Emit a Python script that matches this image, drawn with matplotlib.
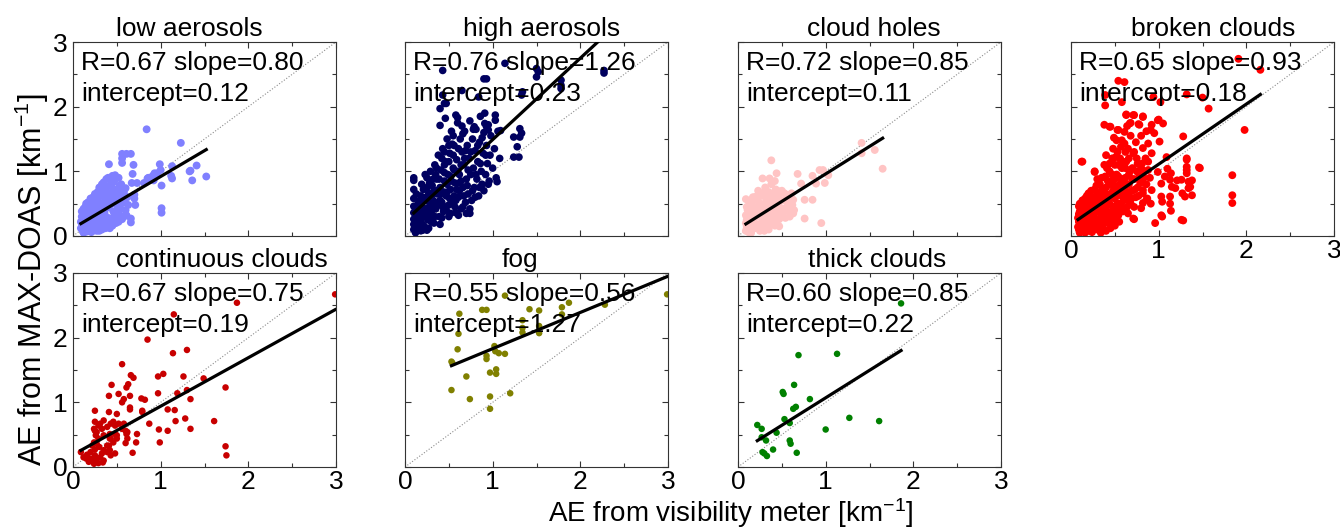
import numpy as np
import matplotlib
matplotlib.use("Agg")
import matplotlib.pyplot as plt
from matplotlib.ticker import MultipleLocator

plt.rcParams["font.family"] = "Liberation Sans"
plt.rcParams["mathtext.fontset"] = "custom"
plt.rcParams["mathtext.rm"] = "Liberation Sans"
plt.rcParams["mathtext.default"] = "regular"

titles = ["low aerosols", "high aerosols", "cloud holes", "broken clouds",
          "continuous clouds", "fog", "thick clouds"]
R = [0.67, 0.76, 0.72, 0.65, 0.67, 0.55, 0.60]
slope = [0.80, 1.26, 0.85, 0.93, 0.75, 0.56, 0.85]
intercept = [0.12, 0.23, 0.11, 0.18, 0.19, 1.27, 0.22]

# AE pairs: (visibility meter, MAX-DOAS) in km-1
low_aerosols = np.array([
    [0.09, 0.12], [0.09, 0.22], [0.10, 0.30], [0.10, 0.38], [0.11, 0.17], [0.11, 0.08], [0.12, 0.26],
    [0.12, 0.42], [0.13, 0.12], [0.13, 0.33], [0.14, 0.20], [0.15, 0.50], [0.16, 0.07], [0.17, 0.28],
    [0.18, 0.40], [0.19, 0.15], [0.20, 0.58], [0.21, 0.35], [0.22, 0.22], [0.23, 0.47], [0.24, 0.09],
    [0.25, 0.65], [0.26, 0.30], [0.27, 0.55], [0.28, 0.16], [0.29, 0.42], [0.30, 0.75], [0.31, 0.24],
    [0.32, 0.62], [0.33, 0.10], [0.34, 0.50], [0.35, 0.83], [0.36, 0.35], [0.37, 0.70], [0.38, 0.18],
    [0.39, 0.58], [0.40, 0.90], [0.41, 0.44], [0.42, 0.78], [0.43, 0.27], [0.44, 0.64], [0.45, 0.93],
    [0.46, 0.38], [0.47, 0.85], [0.48, 0.52], [0.49, 0.20], [0.50, 0.72], [0.51, 0.45], [0.52, 0.90],
    [0.53, 0.33], [0.54, 0.62], [0.55, 0.80], [0.56, 0.26], [0.57, 0.55], [0.58, 0.70], [0.60, 0.40],
    [0.62, 0.60], [0.63, 0.48], [0.11, 0.30], [0.12, 0.05], [0.14, 0.36], [0.15, 0.10], [0.16, 0.44],
    [0.18, 0.25], [0.20, 0.10], [0.22, 0.50], [0.24, 0.38], [0.26, 0.18], [0.28, 0.68], [0.30, 0.52],
    [0.32, 0.34], [0.34, 0.14], [0.36, 0.60], [0.38, 0.44], [0.40, 0.28], [0.42, 0.12], [0.44, 0.50],
    [0.46, 0.72], [0.48, 0.30], [0.50, 0.58], [0.52, 0.22], [0.54, 0.42], [0.56, 0.68], [0.58, 0.30],
    [0.30, 0.08], [0.20, 0.33], [0.15, 0.24], [0.25, 0.45], [0.35, 0.25], [0.45, 0.16], [0.40, 0.66],
    [0.33, 0.80], [0.10, 0.20], [0.12, 0.34], [0.13, 0.06], [0.14, 0.45], [0.16, 0.18], [0.17, 0.52],
    [0.19, 0.30], [0.21, 0.06], [0.21, 0.46], [0.23, 0.14], [0.23, 0.60], [0.25, 0.25], [0.27, 0.36],
    [0.27, 0.08], [0.29, 0.62], [0.31, 0.44], [0.31, 0.14], [0.33, 0.68], [0.35, 0.40], [0.37, 0.52],
    [0.37, 0.12], [0.39, 0.76], [0.41, 0.22], [0.43, 0.56], [0.45, 0.82], [0.47, 0.30], [0.49, 0.66],
    [0.51, 0.35], [0.53, 0.78], [0.55, 0.50], [0.59, 0.52], [0.61, 0.32], [0.38, 0.88], [0.43, 0.90],
    [0.48, 0.94], [0.36, 0.78],
    [0.84, 1.65], [1.23, 1.44], [0.56, 1.27], [0.61, 1.27], [0.66, 1.27], [0.56, 1.20], [0.56, 1.13],
    [0.41, 1.11], [0.69, 1.10], [0.99, 1.11], [1.00, 1.02], [1.13, 1.08], [1.41, 1.09], [1.34, 1.01],
    [1.36, 0.86], [1.52, 0.92], [1.13, 0.89], [1.01, 0.78], [1.01, 0.43], [1.01, 0.36], [0.85, 0.89],
    [0.81, 0.82], [0.67, 0.82], [0.73, 0.82], [0.70, 0.58], [0.71, 0.48], [0.66, 0.27], [0.66, 0.21],
    [0.58, 0.66], [0.60, 0.74], [0.96, 0.97], [0.92, 0.86], [0.68, 0.96], [0.70, 0.64], [1.12, 0.93],
    [0.93, 0.97], [0.91, 0.93], [1.33, 1.00], [0.86, 0.90],
])

high_aerosols = np.array([
    [0.10, 0.90], [0.10, 0.72], [0.10, 0.58], [0.10, 0.46], [0.10, 0.36], [0.10, 0.26], [0.10, 0.18],
    [0.10, 0.10], [0.12, 0.05], [0.14, 0.30], [0.15, 0.50], [0.16, 0.38], [0.17, 0.20], [0.18, 0.62],
    [0.19, 0.28], [0.20, 0.45], [0.21, 0.72], [0.22, 0.15], [0.23, 0.55], [0.24, 0.35], [0.25, 0.90],
    [0.26, 0.25], [0.27, 0.66], [0.28, 0.46], [0.29, 1.00], [0.30, 0.32], [0.31, 0.78], [0.32, 0.55],
    [0.33, 0.20], [0.34, 1.10], [0.35, 0.42], [0.36, 0.88], [0.37, 0.65], [0.38, 1.25], [0.39, 0.30],
    [0.40, 0.75], [0.41, 1.02], [0.42, 0.52], [0.43, 1.35], [0.44, 0.38], [0.45, 0.85], [0.46, 1.15],
    [0.47, 0.62], [0.48, 1.50], [0.49, 0.95], [0.50, 0.30], [0.51, 1.28], [0.52, 0.72], [0.53, 1.62],
    [0.54, 0.50], [0.55, 1.05], [0.56, 1.40], [0.57, 0.82], [0.58, 0.36], [0.59, 1.18], [0.60, 1.75],
    [0.61, 0.60], [0.62, 0.95], [0.63, 1.50], [0.64, 0.42], [0.65, 1.30], [0.66, 0.75], [0.67, 1.10],
    [0.68, 1.62], [0.69, 0.52], [0.70, 0.88], [0.71, 1.40], [0.72, 0.65], [0.73, 1.20], [0.74, 1.78],
    [0.75, 0.95], [0.76, 0.55], [0.77, 1.50], [0.78, 1.05], [0.79, 0.75], [0.80, 1.32], [0.81, 1.65],
    [0.82, 0.88], [0.83, 1.15], [0.84, 0.62], [0.85, 1.45], [0.86, 1.85], [0.87, 1.00], [0.88, 0.80],
    [0.89, 1.28], [0.90, 1.60], [0.91, 1.90], [0.92, 0.95], [0.93, 1.40], [0.94, 1.12], [0.95, 1.72],
    [0.96, 0.85], [0.97, 1.25], [0.98, 1.55], [1.00, 1.05], [1.02, 1.35], [1.04, 0.90], [1.06, 1.62],
    [1.08, 1.20], [0.22, 0.40], [0.26, 0.55], [0.30, 0.62], [0.33, 0.45], [0.36, 0.70], [0.40, 0.55],
    [0.44, 0.68], [0.48, 0.80], [0.52, 0.92], [0.56, 0.62], [0.60, 1.00], [0.64, 0.85], [0.68, 1.20],
    [0.35, 0.95], [0.45, 1.10], [0.55, 1.25], [0.28, 0.30], [0.38, 0.48], [0.50, 0.48], [0.62, 0.70],
    [0.20, 0.18], [0.30, 0.22], [0.42, 0.28], [0.46, 0.45], [0.58, 0.55], [0.25, 0.75], [0.32, 0.88],
    [0.16, 0.12], [0.18, 0.08], [0.27, 0.12], [0.40, 0.18], [0.52, 0.35], [0.66, 0.45], [0.74, 0.42],
    [0.70, 0.35], [0.80, 0.60], [0.85, 0.75], [0.90, 0.70], [0.95, 0.80],
    [0.12, 0.40], [0.13, 0.65], [0.15, 0.22], [0.17, 0.55], [0.19, 0.80], [0.21, 0.32], [0.23, 0.95],
    [0.24, 0.60], [0.26, 0.42], [0.28, 0.82], [0.29, 0.56], [0.31, 0.40], [0.33, 0.70], [0.34, 0.30],
    [0.36, 1.05], [0.37, 0.52], [0.39, 0.88], [0.41, 0.65], [0.42, 1.20], [0.43, 0.45], [0.45, 0.98],
    [0.47, 0.40], [0.48, 0.68], [0.50, 1.15], [0.51, 0.58], [0.53, 0.85], [0.54, 1.42], [0.56, 1.02],
    [0.57, 0.45], [0.59, 0.72], [0.61, 1.35], [0.62, 0.82], [0.64, 1.10], [0.66, 1.58], [0.67, 0.62],
    [0.69, 1.32], [0.71, 0.78], [0.72, 1.02], [0.75, 1.30], [0.77, 0.70], [0.78, 1.65], [0.81, 0.95],
    [0.83, 1.40], [0.86, 1.12], [0.88, 1.52], [0.92, 1.25], [0.55, 1.55], [0.65, 1.70], [0.50, 1.40],
    [0.45, 1.30],
    [1.14, 2.67], [0.43, 2.56], [1.50, 2.59], [1.52, 2.54], [1.50, 2.46], [2.27, 2.56], [2.27, 2.52],
    [0.90, 2.43], [0.93, 2.43], [0.65, 2.25], [0.84, 2.15], [1.33, 2.18], [1.78, 2.41], [1.78, 2.33],
    [1.78, 2.28], [0.43, 2.18], [0.45, 2.05], [0.40, 1.97], [0.46, 1.82], [0.40, 1.71], [0.60, 1.83],
    [1.03, 1.87], [1.03, 1.79], [0.93, 1.69], [0.95, 1.64], [1.31, 1.66], [1.33, 1.59], [1.31, 1.53],
    [1.24, 1.53], [1.28, 1.38], [1.30, 1.22], [1.24, 1.22], [1.05, 0.84], [0.74, 0.35], [0.61, 0.32],
    [0.20, 0.09], [0.25, 0.09], [0.10, 0.86], [0.58, 1.87], [0.79, 1.69], [0.91, 1.74], [1.09, 1.63],
    [0.47, 2.05], [1.34, 2.23],
])

cloud_holes = np.array([
    [0.09, 0.08], [0.09, 0.20], [0.09, 0.32], [0.10, 0.12], [0.09, 0.57], [0.10, 0.25], [0.11, 0.40],
    [0.12, 0.06], [0.13, 0.18], [0.14, 0.30], [0.15, 0.50], [0.16, 0.10], [0.17, 0.38], [0.18, 0.22],
    [0.19, 0.60], [0.20, 0.44], [0.21, 0.14], [0.22, 0.30], [0.23, 0.70], [0.24, 0.52], [0.25, 0.08],
    [0.26, 0.38], [0.27, 0.20], [0.28, 0.62], [0.29, 0.46], [0.30, 0.28], [0.31, 0.75], [0.32, 0.12],
    [0.33, 0.55], [0.34, 0.36], [0.35, 0.68], [0.36, 0.22], [0.37, 0.48], [0.38, 0.80], [0.39, 0.30],
    [0.40, 0.60], [0.41, 0.42], [0.42, 0.16], [0.43, 0.72], [0.44, 0.34], [0.45, 0.52], [0.46, 0.62],
    [0.47, 0.26], [0.48, 0.44], [0.50, 0.70], [0.51, 0.36], [0.52, 0.55], [0.54, 0.28], [0.55, 0.64],
    [0.56, 0.45], [0.58, 0.38], [0.60, 0.58], [0.62, 0.48], [0.64, 0.40], [0.10, 0.15], [0.12, 0.45],
    [0.15, 0.28], [0.18, 0.40], [0.20, 0.16], [0.22, 0.55], [0.25, 0.30], [0.28, 0.18], [0.30, 0.50],
    [0.33, 0.24], [0.36, 0.58], [0.40, 0.25], [0.44, 0.45], [0.48, 0.32], [0.35, 0.10], [0.20, 0.30],
    [0.15, 0.05], [0.30, 0.08], [0.10, 0.45], [0.11, 0.10], [0.12, 0.28], [0.13, 0.52], [0.14, 0.40],
    [0.16, 0.22], [0.17, 0.60], [0.19, 0.12], [0.21, 0.36], [0.22, 0.62], [0.24, 0.18], [0.26, 0.48],
    [0.27, 0.66], [0.29, 0.10], [0.31, 0.40], [0.32, 0.60], [0.34, 0.18], [0.37, 0.34], [0.38, 0.65],
    [0.41, 0.52], [0.43, 0.24], [0.45, 0.70], [0.46, 0.38], [0.49, 0.55], [0.52, 0.42], [0.53, 0.66],
    [0.57, 0.52], [0.59, 0.30], [0.42, 0.85],
    [0.38, 1.17], [0.44, 0.97], [0.28, 0.89], [0.36, 0.89], [0.68, 0.96], [0.85, 0.93], [0.93, 1.02],
    [0.97, 1.02], [1.03, 0.94], [0.99, 0.82], [1.41, 1.44], [1.41, 1.28], [1.56, 1.33], [1.65, 1.04],
    [0.76, 0.56], [0.85, 0.56], [0.63, 0.56], [0.76, 0.27], [0.95, 0.20], [0.47, 0.15], [0.63, 0.35],
    [0.72, 0.81], [0.61, 0.66], [0.89, 0.81],
])

broken_clouds = np.array([
    [0.09, 0.10], [0.09, 0.22], [0.09, 0.34], [0.09, 0.46], [0.10, 0.16], [0.11, 0.28], [0.12, 0.40],
    [0.13, 0.55], [0.14, 0.08], [0.15, 0.20], [0.16, 0.33], [0.17, 0.47], [0.18, 0.62], [0.19, 0.12],
    [0.20, 0.26], [0.21, 0.40], [0.22, 0.55], [0.23, 0.70], [0.24, 0.06], [0.25, 0.18], [0.26, 0.32],
    [0.27, 0.46], [0.28, 0.60], [0.29, 0.78], [0.30, 0.10], [0.31, 0.24], [0.32, 0.38], [0.33, 0.52],
    [0.34, 0.68], [0.35, 0.90], [0.36, 0.15], [0.37, 0.30], [0.38, 0.44], [0.39, 0.58], [0.40, 0.75],
    [0.41, 1.05], [0.42, 0.20], [0.43, 0.36], [0.44, 0.50], [0.45, 0.65], [0.46, 0.85], [0.47, 1.20],
    [0.48, 0.25], [0.49, 0.42], [0.50, 0.58], [0.51, 0.72], [0.52, 0.95], [0.53, 1.30], [0.54, 0.32],
    [0.55, 0.50], [0.56, 0.66], [0.57, 0.82], [0.58, 1.05], [0.59, 0.38], [0.60, 0.55], [0.61, 0.72],
    [0.62, 0.90], [0.63, 1.15], [0.64, 0.45], [0.65, 0.62], [0.66, 0.80], [0.67, 1.00], [0.68, 0.50],
    [0.70, 0.70], [0.72, 0.88], [0.74, 0.60], [0.10, 0.05], [0.12, 0.12], [0.16, 0.05], [0.20, 0.08],
    [0.28, 0.14], [0.34, 0.05], [0.10, 0.38], [0.14, 0.30], [0.18, 0.40], [0.22, 0.30], [0.24, 0.45],
    [0.26, 0.60], [0.30, 0.50], [0.32, 0.65], [0.34, 0.30], [0.36, 0.55], [0.38, 0.68], [0.40, 0.40],
    [0.42, 0.62], [0.44, 0.80], [0.46, 0.35], [0.48, 0.70], [0.50, 0.88], [0.52, 0.48], [0.54, 0.78],
    [0.56, 0.40], [0.58, 0.62], [0.60, 0.85], [0.30, 0.88], [0.38, 1.10], [0.44, 1.12], [0.50, 1.10],
    [0.56, 1.20], [0.62, 1.30], [0.40, 1.25], [0.48, 1.35], [0.54, 1.10], [0.66, 1.20], [0.70, 1.05],
    [0.75, 1.20], [0.78, 0.95], [0.80, 1.05], [0.84, 1.00], [0.86, 0.80], [0.90, 0.90], [0.76, 0.75],
    [0.72, 0.45], [0.65, 0.35], [0.55, 0.22], [0.45, 0.12], [0.40, 0.08], [0.50, 0.16],
    [0.08, 0.14], [0.08, 0.28], [0.10, 0.50], [0.11, 0.22], [0.12, 0.33], [0.13, 0.45], [0.14, 0.15],
    [0.15, 0.38], [0.16, 0.58], [0.17, 0.26], [0.18, 0.10], [0.19, 0.50], [0.20, 0.66], [0.21, 0.18],
    [0.22, 0.42], [0.23, 0.60], [0.24, 0.25], [0.25, 0.52], [0.26, 0.12], [0.27, 0.72], [0.28, 0.38],
    [0.29, 0.22], [0.30, 0.65], [0.31, 0.44], [0.32, 0.16], [0.33, 0.80], [0.34, 0.58], [0.35, 0.40],
    [0.36, 0.72], [0.37, 0.22], [0.38, 0.55], [0.39, 0.92], [0.40, 0.62], [0.41, 0.30], [0.42, 0.85],
    [0.43, 0.48], [0.44, 1.00], [0.45, 0.28], [0.46, 0.60], [0.47, 0.95], [0.48, 0.45], [0.49, 0.78],
    [0.50, 0.30], [0.51, 1.22], [0.52, 0.62], [0.53, 0.40], [0.54, 0.92], [0.55, 0.70], [0.57, 0.48],
    [0.58, 0.88], [0.59, 1.15], [0.60, 0.42], [0.61, 0.62], [0.62, 1.05], [0.63, 0.78], [0.64, 0.56],
    [0.66, 0.95], [0.67, 0.68], [0.69, 0.58], [0.70, 0.88], [0.73, 0.72], [0.75, 1.00], [0.77, 0.62],
    [0.79, 0.82], [0.81, 1.12], [0.83, 0.90], [0.85, 1.20], [0.88, 1.02], [0.65, 1.35], [0.72, 1.30],
    [0.57, 1.38], [0.68, 1.55], [0.74, 1.45], [0.80, 1.55], [0.86, 1.62], [0.64, 1.70], [0.49, 1.52],
    [0.63, 1.87], [0.71, 1.87], [0.82, 1.85], [0.67, 1.74], [0.78, 1.72], [0.53, 1.64], [0.61, 1.61],
    [0.44, 1.69], [0.92, 1.72], [0.95, 1.59], [0.88, 1.43], [0.99, 1.79], [1.05, 1.74], [1.01, 1.46],
    [0.82, 1.36], [0.92, 1.28], [0.71, 1.28], [0.76, 1.12], [0.88, 1.15], [0.99, 0.99], [1.07, 0.92],
    [1.13, 0.87], [1.03, 0.81], [1.15, 0.76], [0.80, 0.84], [0.82, 0.71], [0.92, 0.71], [0.86, 0.56],
    [1.03, 0.61], [1.13, 0.61], [0.80, 0.43], [1.03, 0.32], [0.71, 0.27], [1.26, 0.87], [1.32, 1.18],
    [1.32, 1.02], [1.34, 0.84], [1.34, 0.74], [1.30, 0.61], [1.47, 1.05], [1.26, 0.25], [0.46, 0.17],
    [0.12, 1.15], [0.27, 0.99], [0.38, 1.72], [0.52, 1.48], [0.61, 1.43],
    [1.91, 2.74], [2.16, 2.57], [0.54, 2.40], [0.61, 2.38], [0.39, 2.18], [0.39, 2.02], [0.58, 2.07],
    [1.02, 2.07], [0.94, 2.15], [1.32, 2.19], [1.50, 2.14], [1.57, 1.97], [1.98, 1.64], [1.28, 1.54],
    [0.45, 1.69], [0.63, 1.88], [0.72, 1.87], [0.82, 1.84], [1.00, 1.80], [0.68, 1.75], [0.77, 1.73],
    [0.91, 1.64], [0.54, 1.64], [0.58, 1.48], [0.13, 1.15], [0.27, 1.00], [1.46, 1.06], [1.32, 1.20],
    [1.32, 1.07], [1.32, 0.97], [1.09, 1.22], [1.10, 1.04], [1.14, 0.97], [1.21, 0.86], [1.19, 0.74],
    [1.27, 0.66], [1.38, 0.86], [1.36, 0.76], [1.38, 0.63], [1.84, 0.94], [1.84, 0.63], [1.84, 0.51],
    [1.28, 0.24], [0.96, 0.20], [0.72, 0.26], [0.47, 0.17], [1.04, 0.30], [1.04, 0.53], [1.13, 0.50],
    [1.14, 0.39], [0.82, 0.66], [0.87, 0.58], [0.91, 0.50], [0.82, 0.51],
])

continuous_clouds = np.array([
    [2.99, 2.67], [1.87, 2.54], [1.15, 2.36], [0.85, 1.97], [1.14, 1.76], [1.30, 1.81], [0.56, 1.59],
    [0.97, 1.40], [1.03, 1.44], [1.26, 1.40], [1.49, 1.37], [0.66, 1.42], [0.69, 1.38], [0.63, 1.28],
    [0.61, 1.23], [0.44, 1.27], [1.30, 1.19], [1.19, 1.14], [1.74, 1.23], [0.97, 1.14], [0.41, 1.10],
    [0.52, 1.13], [0.65, 1.10], [0.58, 1.05], [0.56, 1.00], [0.78, 1.06], [0.82, 1.04], [1.34, 1.05],
    [0.25, 0.87], [0.41, 0.85], [0.50, 0.82], [0.65, 0.92], [0.65, 0.89], [0.79, 0.87], [0.79, 0.85],
    [1.08, 0.89], [1.16, 0.88], [1.28, 0.75], [1.17, 0.71], [1.61, 0.71], [0.87, 0.67], [0.98, 0.58],
    [1.08, 0.56], [1.34, 0.59], [0.99, 0.38], [1.74, 0.32], [1.75, 0.18], [0.48, 0.21], [0.68, 0.22],
    [0.72, 0.38], [0.60, 0.37], [0.62, 0.44], [0.73, 0.51], [0.25, 0.70], [0.25, 0.56], [0.26, 0.49],
    [0.31, 0.67], [0.35, 0.72], [0.42, 0.51], [0.42, 0.44], [0.41, 0.33], [0.42, 0.26], [0.48, 0.64],
    [0.48, 0.51], [0.50, 0.44], [0.58, 0.67], [0.60, 0.56], [0.61, 0.51],
    [0.09, 0.23], [0.12, 0.15], [0.16, 0.19], [0.20, 0.13], [0.24, 0.10], [0.27, 0.13], [0.31, 0.15],
    [0.35, 0.10], [0.20, 0.23], [0.25, 0.27], [0.30, 0.31], [0.35, 0.26], [0.39, 0.33], [0.24, 0.38],
    [0.29, 0.44], [0.35, 0.49], [0.27, 0.54], [0.24, 0.59], [0.29, 0.64], [0.33, 0.59], [0.39, 0.62],
    [0.43, 0.67], [0.46, 0.70], [0.52, 0.67], [0.56, 0.59], [0.62, 0.54], [0.50, 0.49], [0.46, 0.38],
    [0.43, 0.44], [0.39, 0.23], [0.43, 0.18], [0.33, 0.21], [0.15, 0.13], [0.18, 0.08], [0.24, 0.05],
    [0.29, 0.06], [0.34, 0.07], [0.25, 0.18], [0.22, 0.33], [0.27, 0.36],
])

fog = np.array([
    [1.14, 2.65], [2.99, 2.67], [1.87, 2.54], [2.28, 2.51], [0.62, 2.37], [0.88, 2.43], [0.93, 2.43],
    [1.42, 2.44], [1.53, 2.42], [1.79, 2.47], [1.79, 2.36], [1.34, 2.27], [1.34, 2.15], [1.34, 2.08],
    [1.53, 2.18], [1.53, 2.07], [0.61, 2.06], [0.60, 1.82], [1.02, 1.87], [1.03, 1.79], [1.07, 1.76],
    [1.14, 1.75], [0.93, 1.72], [0.93, 1.67], [0.53, 1.63], [0.54, 1.61], [0.70, 1.40], [1.04, 1.51],
    [1.04, 1.44], [0.97, 1.46], [0.53, 1.19], [0.74, 1.05], [0.97, 1.09], [1.20, 1.14], [0.97, 0.90],
])

thick_clouds = np.array([
    [1.86, 2.53], [0.69, 1.73], [1.13, 1.75], [0.64, 1.27], [0.51, 1.16], [0.52, 1.13], [0.82, 1.05],
    [0.63, 0.90], [0.66, 0.93], [0.53, 0.74], [0.59, 0.68], [1.27, 0.76], [1.61, 0.71], [1.00, 0.58],
    [0.44, 0.53], [0.22, 0.65], [0.27, 0.59], [0.32, 0.41], [0.27, 0.46], [0.59, 0.41], [0.60, 0.36],
    [0.40, 0.27], [0.28, 0.23], [0.30, 0.21], [0.33, 0.17], [0.67, 0.22],
])

panels = [low_aerosols, high_aerosols, cloud_holes, broken_clouds,
          continuous_clouds, fog, thick_clouds]
colors = ["#8080ff", "#00005f", "#ffc4c4", "#ff0000", "#c80000", "#808000", "#008000"]
sizes = [32, 30, 32, 32, 22, 22, 22]
title_x = [0.443, 0.521, 0.515, 0.542, 0.567, 0.437, 0.530]

W, H = 1340, 532
lefts = [73, 405, 738, 1071]
tops = [42, 273]
aw, ah = 263, 194

fig = plt.figure(figsize=(W / 100, H / 100), dpi=100)

for i, pts in enumerate(panels):
    row, col = divmod(i, 4)
    ax = fig.add_axes([lefts[col] / W, 1 - (tops[row] + ah) / H, aw / W, ah / H])

    # 1:1 reference line
    ax.plot([0, 3], [0, 3], ls=":", color="0.55", lw=0.8, zorder=1)
    ax.scatter(pts[:, 0], pts[:, 1], s=sizes[i], color=colors[i], edgecolors="none", zorder=2)

    # linear fit over the range of the data
    xf = np.array([pts[:, 0].min(), pts[:, 0].max()])
    ax.plot(xf, slope[i] * xf + intercept[i], color="k", lw=2.3, zorder=3)

    ax.text(0.03, 0.855, f"R={R[i]:.2f} slope={slope[i]:.2f}", transform=ax.transAxes,
            fontsize=19, va="baseline", zorder=4)
    ax.text(0.03, 0.695, f"intercept={intercept[i]:.2f}", transform=ax.transAxes,
            fontsize=19, va="baseline", zorder=4)
    ax.set_title(titles[i], x=title_x[i], fontsize=19, pad=4)

    ax.set_xlim(0, 3)
    ax.set_ylim(0, 3)
    ax.set_xticks([0, 1, 2, 3])
    ax.set_yticks([0, 1, 2, 3])
    ax.xaxis.set_minor_locator(MultipleLocator(0.5))
    ax.yaxis.set_minor_locator(MultipleLocator(0.5))
    ax.tick_params(which="both", direction="in", top=True, right=True, color="0.2", labelsize=19)
    ax.tick_params(which="major", length=4, width=0.8)
    ax.tick_params(which="minor", length=3, width=0.8)
    ax.tick_params(axis="y", pad=4)
    ax.tick_params(axis="x", pad=2)
    for sp in ax.spines.values():
        sp.set_color("0.2")
        sp.set_linewidth(0.8)
    if col != 0:
        ax.tick_params(labelleft=False)
    if row == 0 and col < 3:
        ax.tick_params(labelbottom=False)

fig.text(0.024, 0.474, "AE from MAX-DOAS [km$^{-1}$]", rotation=90,
         ha="center", va="center", fontsize=22)
fig.text(0.545, 0.004, "AE from visibility meter [km$^{-1}$]",
         ha="center", va="bottom", fontsize=20)

fig.savefig("out.png", dpi=100)
